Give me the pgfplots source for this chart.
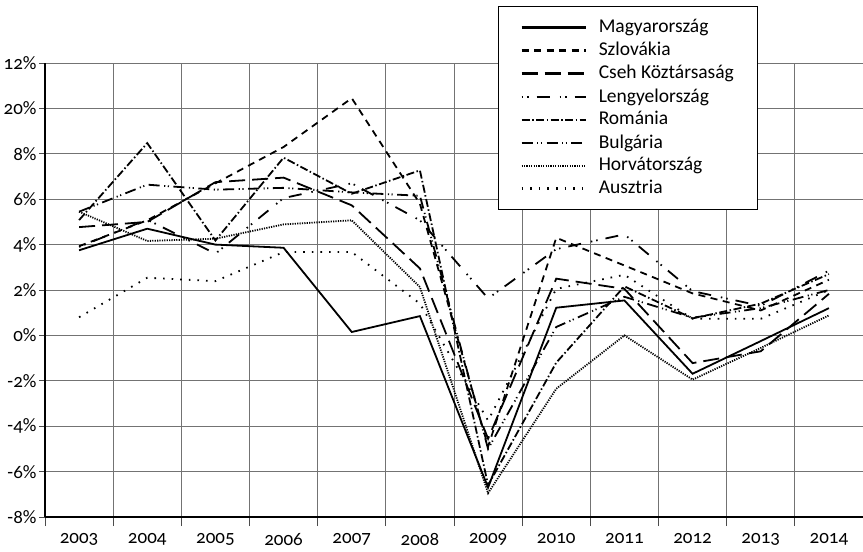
\documentclass[border=0pt]{standalone}
\usepackage{fontspec}
\setmainfont{Carlito}[Numbers=OldStyle]
\usepackage{pgfplots}
\usepackage{pgfplotstable}
\pgfplotsset{compat=1.18}
\pgfplotstableread{
x HU SK CZ PL RO BG HR AT
0 3.75 3.93 4.77 3.90 5.08 5.45 5.45 0.80
1 4.70 5.07 5.00 5.10 8.47 6.64 4.16 2.54
2 4.00 6.70 6.75 3.60 4.18 6.42 4.26 2.39
3 3.86 8.30 6.95 6.05 7.83 6.50 4.89 3.67
4 0.15 10.45 5.73 6.70 6.24 6.30 5.07 3.67
5 0.85 5.80 2.95 5.07 7.27 6.15 2.13 1.40
6 -6.70 -4.90 -4.55 1.63 -6.60 -5.00 -6.95 -3.75
7 1.22 4.30 2.50 3.80 -1.20 0.37 -2.35 2.05
8 1.54 3.08 2.05 4.45 2.16 1.70 0.00 2.67
9 -1.69 1.85 -1.22 1.95 0.75 0.78 -1.95 0.73
10 -0.25 1.10 -0.70 1.30 1.40 1.20 -0.55 0.73
11 1.20 2.45 1.83 2.85 2.70 2.00 0.88 2.00
}\datatable
\begin{document}
\fontsize{19}{22}\selectfont
\begin{tikzpicture}
\begin{axis}[
  scale only axis, width=818pt, height=454pt,
  xmin=-0.5, xmax=11.5, ymin=-8, ymax=12,
  xtick={0,...,11},
  xticklabels={2003,2004,2005,2006,2007,2008,2009,2010,2011,2012,2013,2014},
  minor xtick={-0.5,0.5,...,11.5},
  ytick={-8,-6,...,12},
  yticklabels={-8\%,-6\%,-4\%,-2\%,0\%,2\%,4\%,6\%,8\%,20\%,12\%},
  ymajorgrids, xminorgrids,
  major grid style={draw=black!55, line width=0.9pt},
  minor grid style={draw=black!55, line width=0.9pt},
  axis x line*=bottom, axis y line*=left,
  axis line style={black, line width=1.6pt, -},
  tick align=outside, tick pos=left,
  major x tick style={draw=none},
  minor x tick style={draw=black!70, line width=0.9pt},
  major y tick style={draw=black!70, line width=0.9pt},
  major tick length=6pt, minor tick length=9pt,
  xticklabel style={yshift=-4pt},
  yticklabel style={xshift=4pt},
  ticklabel style={font=\fontsize{19}{22}\selectfont},
  legend style={at={(rel axis cs:0.5538,1.1256)}, anchor=north west,
    draw=black, line width=0.9pt, fill=white,
    font=\fontsize{19.5}{22}\selectfont,
    inner xsep=22pt, inner ysep=11pt, row sep=2.7pt,
    /tikz/every odd column/.style={column sep=10pt},
    cells={anchor=west}},
  legend image code/.code={\draw[#1, line width=2.3pt] (0pt,0pt) -- (64pt,0pt);},
  every axis plot/.append style={line width=1.8pt, black},
]
\addplot[solid] table[x=x,y=HU]{\datatable};
\addlegendentry{Magyarország}
\addplot[dash pattern=on 7pt off 5.5pt] table[x=x,y=SK]{\datatable};
\addlegendentry{Szlovákia}
\addplot[dash pattern=on 16pt off 7pt] table[x=x,y=CZ]{\datatable};
\addlegendentry{Cseh Köztársaság}
\addplot[dash pattern=on 1.5pt off 4pt on 1.5pt off 8pt on 13pt off 10pt] table[x=x,y=PL]{\datatable};
\addlegendentry{Lengyelország}
\addplot[dash pattern=on 8pt off 2.5pt on 1.5pt off 2.5pt] table[x=x,y=RO]{\datatable};
\addlegendentry{Románia}
\addplot[dash pattern=on 11pt off 4.5pt on 1.2pt off 2.5pt on 1.2pt off 4.5pt] table[x=x,y=BG]{\datatable};
\addlegendentry{Bulgária}
\addplot[dash pattern=on 1.2pt off 1.2pt] table[x=x,y=HR]{\datatable};
\addlegendentry{Horvátország}
\addplot[dash pattern=on 1.6pt off 7pt] table[x=x,y=AT]{\datatable};
\addlegendentry{Ausztria}
\end{axis}
\pgfresetboundingbox
\path[use as bounding box] (-45pt,-35pt) rectangle (818pt,517pt);
\end{tikzpicture}
\end{document}
